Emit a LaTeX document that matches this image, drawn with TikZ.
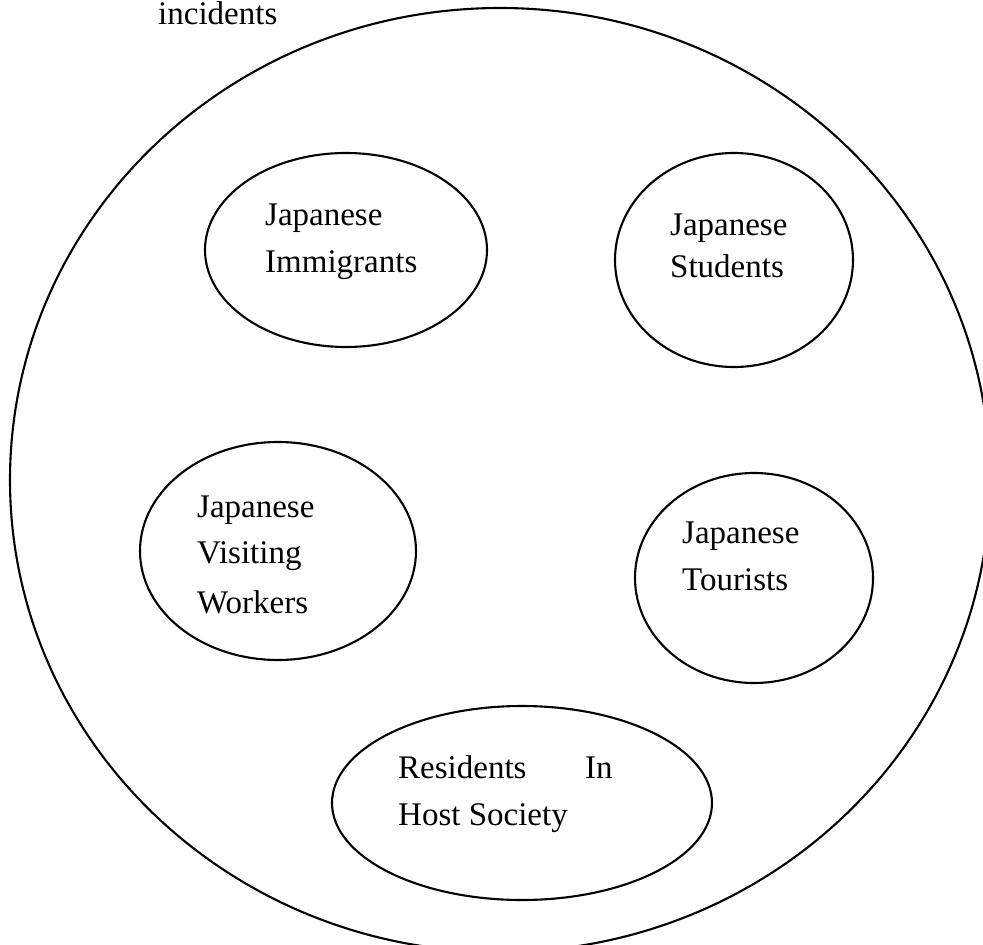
\documentclass[tikz,border=0pt]{standalone}
\usepackage{fontspec}
\setmainfont{Liberation Serif}
\usetikzlibrary{shapes.geometric}
\begin{document}
\begin{tikzpicture}[x=1pt,y=-1pt,
  ring/.style={draw, line width=2.1pt, ellipse, inner sep=0pt},
  txt/.style={anchor=base west, inner sep=0pt, font=\fontsize{33}{40}\selectfont}]
\useasboundingbox (0,0) rectangle (983,945);
\clip (0,0) rectangle (983,945);
\node[ring, minimum width=980pt, minimum height=944pt] (outer) at (500,480) {};
\node[ring, minimum width=282pt, minimum height=194pt] (imm) at (346,250) {};
\node[ring, minimum width=238pt, minimum height=214pt] (stu) at (734,260) {};
\node[ring, minimum width=276pt, minimum height=218pt] (vis) at (278,551) {};
\node[ring, minimum width=238pt, minimum height=210pt] (tou) at (754,578) {};
\node[ring, minimum width=380pt, minimum height=194pt] (res) at (522,803) {};
\node[txt] (inc) at (158,24) {incidents};
\node[txt] (imm1) at (265,225) {Japanese};
\node[txt] (imm2) at (265,272) {Immigrants};
\node[txt] (stu1) at (670,235) {Japanese};
\node[txt] (stu2) at (670,277) {Students};
\node[txt] (vis1) at (197,517) {Japanese};
\node[txt] (vis2) at (197,563) {Visiting};
\node[txt] (vis3) at (197,613) {Workers};
\node[txt] (tou1) at (682,543) {Japanese};
\node[txt] (tou2) at (682,590) {Tourists};
\node[txt] (res1) at (398,778) {Residents};
\node[txt] (res2) at (585,778) {In};
\node[txt] (res3) at (398,825) {Host Society};
\end{tikzpicture}
\end{document}
